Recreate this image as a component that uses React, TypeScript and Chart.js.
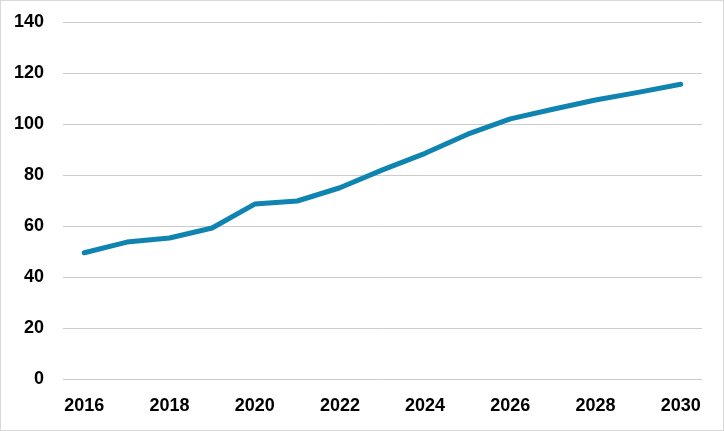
import React, { useEffect, useRef } from "react";
import { Chart, registerables } from "chart.js";

Chart.register(...registerables);

const years = [
  "2016", "2017", "2018", "2019", "2020", "2021", "2022", "2023",
  "2024", "2025", "2026", "2027", "2028", "2029", "2030",
];
const values = [49.5, 53.7, 55.3, 59.2, 68.6, 69.8, 75.0, 82.0, 88.5, 96.0, 102.0, 105.8, 109.4, 112.4, 115.6];
const yMin = 0;
const yMax = 140;
const yStep = 20;

export default function App() {
  const ref = useRef<HTMLCanvasElement>(null);
  useEffect(() => {
    document.body.style.margin = "0";
    const ctx = ref.current!;
    const font = { family: "'Liberation Sans', Arial, sans-serif", size: 18, weight: "bold" as const };
    const chart = new Chart(ctx, {
      type: "line",
      data: {
        labels: years,
        datasets: [
          {
            data: values,
            borderColor: "#0F84B0",
            borderWidth: 5,
            pointRadius: 0,
            fill: false,
            tension: 0,
            borderCapStyle: "round",
            borderJoinStyle: "round",
          },
        ],
      },
      options: {
        animation: false,
        responsive: false,
        maintainAspectRatio: false,
        layout: { padding: { left: 0, right: 21, top: 21, bottom: 0 } },
        plugins: { legend: { display: false }, tooltip: { enabled: false } },
        scales: {
          x: {
            offset: true,
            grid: { display: false, drawTicks: false },
            border: { display: false },
            ticks: {
              color: "#000",
              font,
              autoSkip: false,
              maxRotation: 0,
              padding: 16,
              callback: (_v: any, i: number) => (i % 2 === 0 ? years[i] : ""),
            },
            afterFit: (scale: any) => {
              scale.height = 51;
              scale.paddingLeft = 0;
              scale.paddingRight = 0;
            },
          },
          y: {
            min: yMin,
            max: yMax,
            grid: { color: "#CCCCCC", lineWidth: 1, drawTicks: false },
            border: { display: false },
            ticks: { stepSize: yStep, color: "#000", font, padding: 19 },
            afterFit: (scale: any) => {
              scale.width = 62;
              scale.paddingTop = 0;
              scale.paddingBottom = 0;
            },
          },
        },
      },
    });
    return () => chart.destroy();
  }, []);
  return (
    <div
      style={{
        position: "absolute",
        left: 0,
        top: 0,
        width: 724,
        height: 431,
        boxSizing: "border-box",
        border: "1px solid #D9D9D9",
        background: "#fff",
      }}
    >
      <canvas ref={ref} width={722} height={429} style={{ display: "block" }} />
    </div>
  );
}
